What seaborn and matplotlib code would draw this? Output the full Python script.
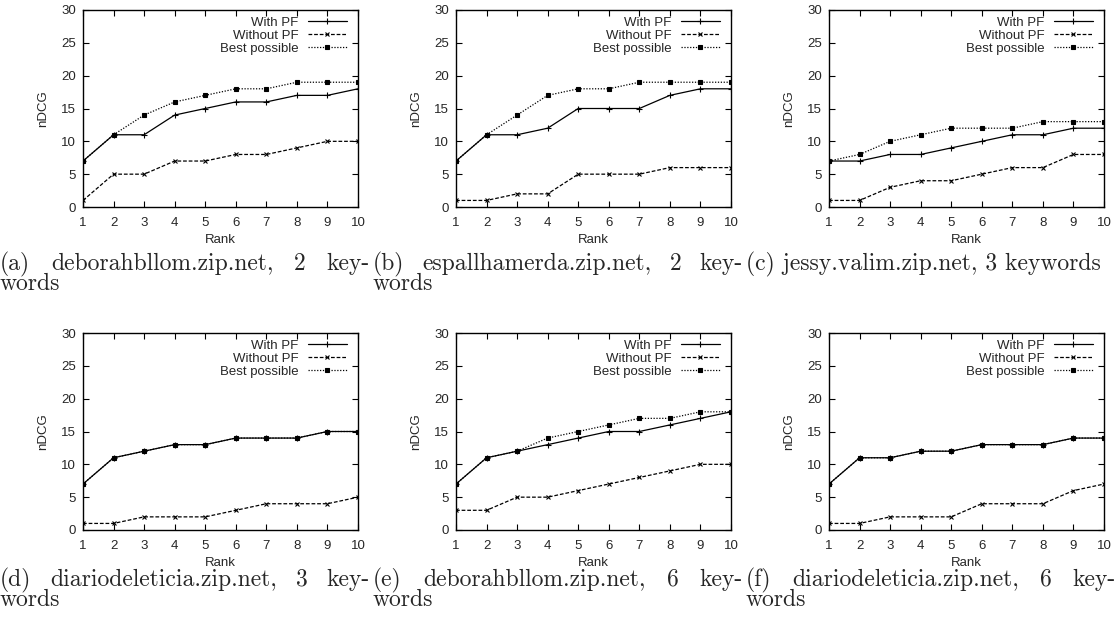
import numpy as np
import pandas as pd
import matplotlib
matplotlib.use("Agg")
import matplotlib.pyplot as plt
import seaborn as sns

# --- DATA ---
RANKS = list(range(1, 11))

with_pf = {
    "a": [7, 11, 11, 14, 15, 16, 16, 17, 17, 18],
    "b": [7, 11, 11, 12, 15, 15, 15, 17, 18, 18],
    "c": [7, 7, 8, 8, 9, 10, 11, 11, 12, 12],
    "d": [7, 11, 12, 13, 13, 14, 14, 14, 15, 15],
    "e": [7, 11, 12, 13, 14, 15, 15, 16, 17, 18],
    "f": [7, 11, 11, 12, 12, 13, 13, 13, 14, 14],
}
without_pf = {
    "a": [1, 5, 5, 7, 7, 8, 8, 9, 10, 10],
    "b": [1, 1, 2, 2, 5, 5, 5, 6, 6, 6],
    "c": [1, 1, 3, 4, 4, 5, 6, 6, 8, 8],
    "d": [1, 1, 2, 2, 2, 3, 4, 4, 4, 5],
    "e": [3, 3, 5, 5, 6, 7, 8, 9, 10, 10],
    "f": [1, 1, 2, 2, 2, 4, 4, 4, 6, 7],
}
best_possible = {
    "a": [7, 11, 14, 16, 17, 18, 18, 19, 19, 19],
    "b": [7, 11, 14, 17, 18, 18, 19, 19, 19, 19],
    "c": [7, 8, 10, 11, 12, 12, 12, 13, 13, 13],
    "d": [7, 11, 12, 13, 13, 14, 14, 14, 15, 15],
    "e": [7, 11, 12, 14, 15, 16, 17, 17, 18, 18],
    "f": [7, 11, 11, 12, 12, 13, 13, 13, 14, 14],
}

captions = {
    "a": ["(a) deborahbllom.zip.net, 2 key-", "words"],
    "b": ["(b) espallhamerda.zip.net, 2 key-", "words"],
    "c": ["(c) jessy.valim.zip.net, 3 keywords"],
    "d": ["(d) diariodeleticia.zip.net, 3 key-", "words"],
    "e": ["(e) deborahbllom.zip.net, 6 key-", "words"],
    "f": ["(f) diariodeleticia.zip.net, 6 key-", "words"],
}

# --- STYLE ---
sns.set_style("ticks")
plt.rcParams["font.family"] = ["Liberation Sans", "DejaVu Sans"]
plt.rcParams["xtick.direction"] = "in"
plt.rcParams["ytick.direction"] = "in"

W, H = 1120, 632
FS = 9.5
fig = plt.figure(figsize=(W / 100, H / 100), dpi=100)

series_style = [
    ("With PF", with_pf, dict(marker="+", markersize=4, linestyle="-")),
    ("Without PF", without_pf, dict(marker="x", markersize=3, linestyle=(0, (3, 1.5)))),
    ("Best possible", best_possible, dict(marker="s", markersize=2.2, linestyle=(0, (1, 1.3)))),
]

panel_left = [83, 456, 829]
row_top = [10, 333]
row_bottom = [207, 530]
ax_w = 275

keys = ["a", "b", "c", "d", "e", "f"]
caption_jobs = []
for i, key in enumerate(keys):
    r, c = divmod(i, 3)
    left = panel_left[c] / W
    bottom = 1 - row_bottom[r] / H
    height = (row_bottom[r] - row_top[r]) / H
    ax = fig.add_axes([left, bottom, ax_w / W, height])

    for label, src, st in series_style:
        df = pd.DataFrame({"Rank": RANKS, "nDCG": src[key]})
        kw = dict(st)
        ls = kw.pop("linestyle")
        sns.lineplot(data=df, x="Rank", y="nDCG", ax=ax, color="black",
                     linewidth=0.9, label=label, markeredgewidth=0.8,
                     markerfacecolor="black", markeredgecolor="black", **kw)
        ax.lines[-1].set_linestyle(ls)

    ax.set_xlim(1, 10)
    ax.set_ylim(0, 30)
    ax.set_xticks(RANKS)
    ax.set_yticks(range(0, 31, 5))
    ax.tick_params(axis="both", which="both", top=True, right=True,
                   length=4, width=0.8, labelsize=FS, pad=5, color="black")
    ax.tick_params(axis="x", pad=7)
    for s in ax.spines.values():
        s.set_linewidth(1.0)
        s.set_color("black")
    ax.set_xlabel("Rank", fontsize=FS, labelpad=4)
    ax.set_ylabel("nDCG", fontsize=FS, labelpad=9)

    leg = ax.legend(loc="upper right", frameon=False, markerfirst=False,
                    fontsize=FS, handlelength=3.0, handletextpad=0.7,
                    labelspacing=0.05, borderaxespad=0.1, bbox_to_anchor=(0.985, 1.0))
    for t in leg.get_texts():
        t.set_ha("right")

    x0 = 373 * c
    line_y = [270, 290] if r == 0 else [586, 606]
    caption_jobs.append((x0, line_y, captions[key]))

# --- CAPTIONS (justified, serif) ---
cap_width = 370
cap_font = dict(family="cmr10", fontsize=17)
fig.canvas.draw()
renderer = fig.canvas.get_renderer()
for x0, line_y, lines in caption_jobs:
    for li, text in enumerate(lines):
        y = 1 - line_y[li] / H
        justify = (li == 0 and len(lines) > 1)
        if not justify:
            fig.text(x0 / W, y, text, ha="left", va="baseline", **cap_font)
            continue
        words = text.split(" ")
        objs = [fig.text(0, y, w, ha="left", va="baseline", **cap_font) for w in words]
        widths = [o.get_window_extent(renderer).width for o in objs]
        gap = (cap_width - sum(widths)) / (len(words) - 1)
        x = x0
        for o, w in zip(objs, widths):
            o.set_x(x / W)
            x += w + gap

fig.savefig("out.png", dpi=100)
